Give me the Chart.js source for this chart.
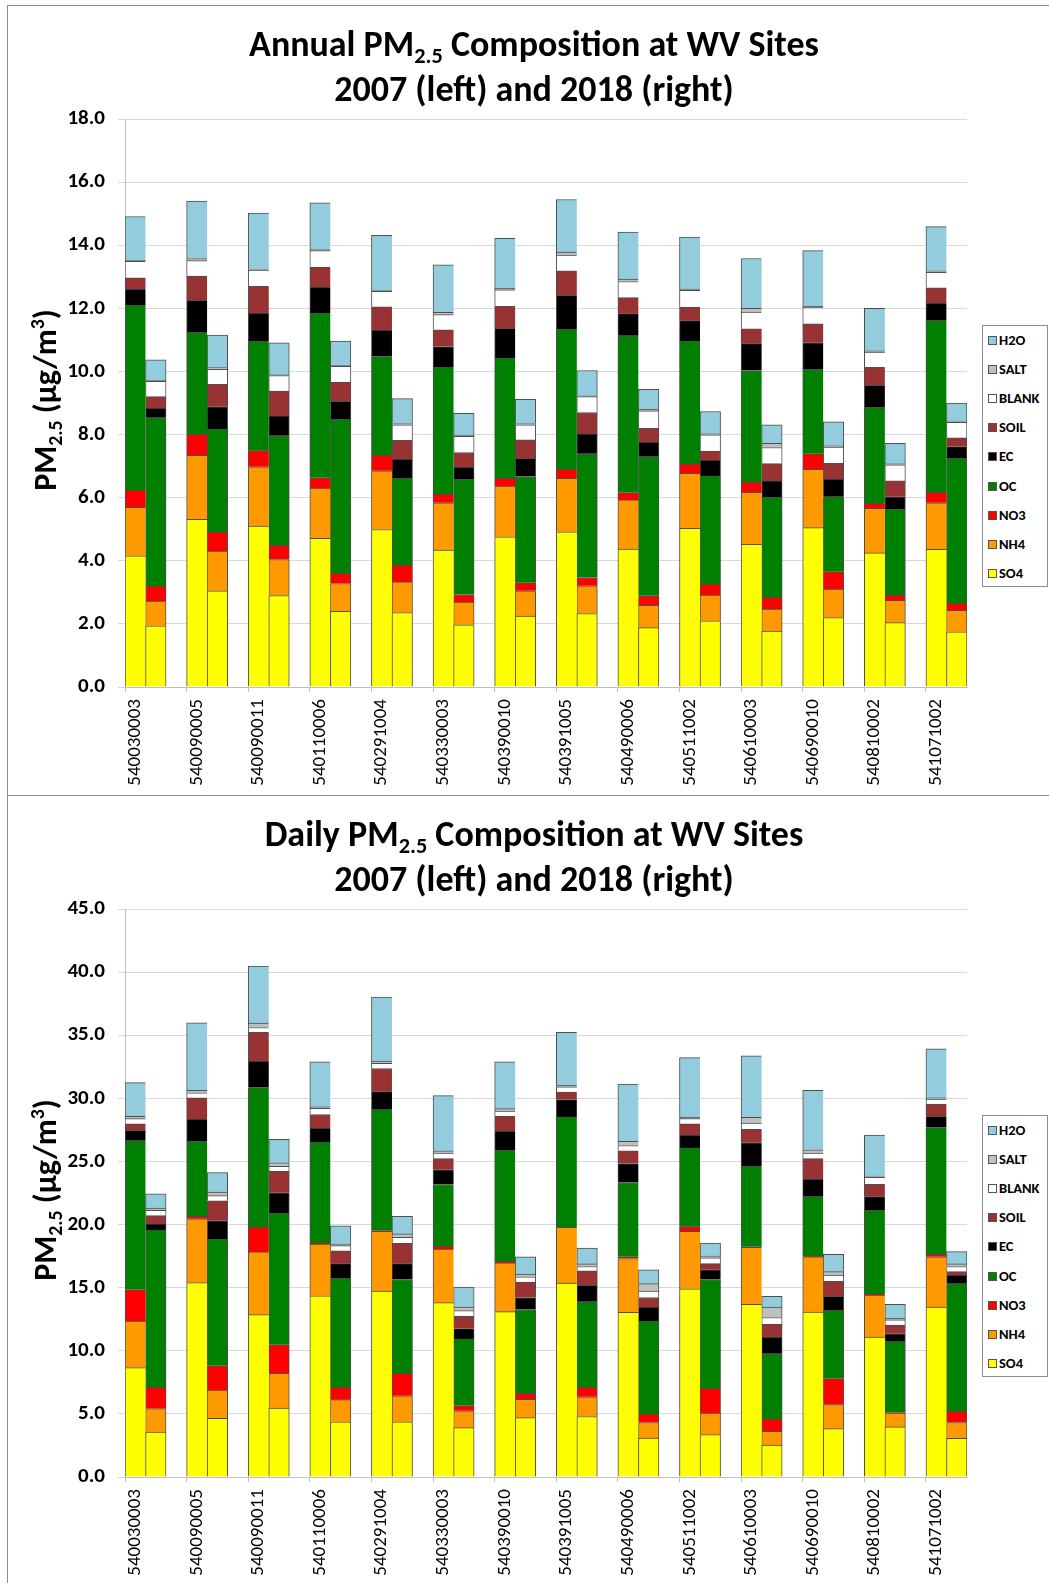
<!DOCTYPE html>
<html>
<head>
<meta charset="utf-8">
<script src="https://cdn.jsdelivr.net/npm/chart.js@4.4.0/dist/chart.umd.min.js"></script>
<style>
  html, body { margin: 0; padding: 0; background: #fff; }
  body { width: 1049px; height: 1583px; overflow: hidden; position: relative;
         font-family: Carlito, Calibri, Lato, sans-serif; color: #000; }
  .frame { position: absolute; left: 7px; width: 1100px; border: 1px solid #8c8c8c; box-sizing: border-box; }
  .title { position: absolute; left: 0; width: 1068px; text-align: center; font-weight: bold;
           font-size: 36px; line-height: 45px; }
  .title sub, .ytitle sub { font-size: 0.62em; vertical-align: -0.3em; line-height: 0; }
  .ytitle sup { font-size: 0.62em; vertical-align: 0.6em; line-height: 0; }
  .ytitle { position: absolute; width: 300px; height: 40px; line-height: 40px; text-align: center;
            font-weight: bold; font-size: 32px; transform: rotate(-90deg); white-space: nowrap; }
  canvas { position: absolute; left: 0; }
  .legend { position: absolute; left: 982px; width: 66px; height: 262px; border: 1px solid #8c8c8c;
            box-sizing: border-box; background: #fff; }
  .legend .item { position: absolute; left: 5px; height: 16px; line-height: 16px; font-size: 14.5px;
                  font-weight: bold; white-space: nowrap; }
  .legend .sw { display: inline-block; width: 7px; height: 7px; border: 1px solid #555;
                margin-right: 2px; vertical-align: 0px; }
</style>
</head>
<body>

<script>
/* ---------- categories ---------- */
const sites = ["540030003", "540090005", "540090011", "540110006", "540291004", "540330003", "540390010",
               "540391005", "540490006", "540511002", "540610003", "540690010", "540810002", "541071002"];
const components = ["SO4", "NH4", "NO3", "OC", "EC", "SOIL", "BLANK", "SALT", "H2O"];
const compColors = ["#FFFF00", "#FF9900", "#FF0000", "#008000", "#000000", "#993333", "#FFFFFF", "#C0C0C0", "#93CDDD"];

/* ---------- Annual PM2.5 (ug/m3), 2007 ---------- */
const annSO4_2007   = [4.16, 5.31, 5.10, 4.71, 4.99, 4.34, 4.76, 4.92, 4.37, 5.03, 4.52, 5.05, 4.25, 4.36];
const annNH4_2007   = [1.53, 2.03, 1.88, 1.59, 1.86, 1.50, 1.61, 1.69, 1.56, 1.74, 1.65, 1.85, 1.41, 1.48];
const annNO3_2007   = [0.55, 0.67, 0.51, 0.33, 0.50, 0.27, 0.24, 0.29, 0.23, 0.30, 0.32, 0.49, 0.16, 0.33];
const annOC_2007    = [5.86, 3.23, 3.47, 5.22, 3.12, 4.03, 3.81, 4.44, 4.97, 3.89, 3.54, 2.68, 3.04, 5.45];
const annEC_2007    = [0.51, 1.01, 0.89, 0.82, 0.84, 0.65, 0.95, 1.07, 0.70, 0.65, 0.85, 0.84, 0.70, 0.55];
const annSOIL_2007  = [0.36, 0.77, 0.85, 0.63, 0.74, 0.53, 0.69, 0.78, 0.51, 0.43, 0.47, 0.60, 0.57, 0.48];
const annBLANK_2007 = [0.52, 0.49, 0.51, 0.53, 0.49, 0.48, 0.53, 0.50, 0.51, 0.53, 0.53, 0.51, 0.48, 0.49];
const annSALT_2007  = [0.03, 0.07, 0.02, 0.03, 0.02, 0.07, 0.04, 0.09, 0.08, 0.04, 0.12, 0.04, 0.04, 0.05];
const annH2O_2007   = [1.39, 1.82, 1.79, 1.48, 1.75, 1.51, 1.59, 1.67, 1.49, 1.65, 1.58, 1.77, 1.35, 1.40];

/* ---------- Annual PM2.5, 2018 ---------- */
const annSO4_2018   = [1.94, 3.05, 2.90, 2.40, 2.36, 1.97, 2.25, 2.33, 1.88, 2.10, 1.77, 2.20, 2.04, 1.75];
const annNH4_2018   = [0.78, 1.26, 1.14, 0.88, 0.97, 0.72, 0.80, 0.88, 0.71, 0.81, 0.70, 0.90, 0.71, 0.68];
const annNO3_2018   = [0.48, 0.60, 0.45, 0.32, 0.53, 0.24, 0.25, 0.26, 0.30, 0.35, 0.37, 0.55, 0.16, 0.22];
const annOC_2018    = [5.33, 3.26, 3.47, 4.88, 2.75, 3.65, 3.37, 3.92, 4.41, 3.43, 3.17, 2.38, 2.72, 4.60];
const annEC_2018    = [0.31, 0.71, 0.63, 0.57, 0.61, 0.39, 0.58, 0.63, 0.46, 0.50, 0.52, 0.56, 0.40, 0.37];
const annSOIL_2018  = [0.36, 0.71, 0.79, 0.61, 0.60, 0.46, 0.58, 0.68, 0.44, 0.29, 0.55, 0.50, 0.50, 0.28];
const annBLANK_2018 = [0.49, 0.48, 0.49, 0.50, 0.49, 0.51, 0.48, 0.50, 0.55, 0.51, 0.51, 0.51, 0.51, 0.49];
const annSALT_2018  = [0.03, 0.05, 0.02, 0.03, 0.04, 0.04, 0.04, 0.03, 0.05, 0.03, 0.13, 0.04, 0.03, 0.04];
const annH2O_2018   = [0.65, 1.03, 1.02, 0.77, 0.79, 0.69, 0.77, 0.80, 0.63, 0.71, 0.59, 0.76, 0.65, 0.57];

/* ---------- Daily PM2.5, 2007 ---------- */
const daySO4_2007   = [8.67, 15.40, 12.86, 14.36, 14.72, 13.81, 13.10, 15.37, 13.05, 14.91, 13.68, 13.07, 11.08, 13.46];
const dayNH4_2007   = [3.69, 5.06, 4.97, 4.10, 4.75, 4.24, 3.86, 4.41, 4.26, 4.56, 4.51, 4.38, 3.33, 3.99];
const dayNO3_2007   = [2.49, 0.19, 1.97, 0.06, 0.06, 0.22, 0.13, 0.02, 0.14, 0.36, 0.05, 0.05, 0.09, 0.19];
const dayOC_2007    = [11.79, 5.94, 11.05, 8.01, 9.57, 4.90, 8.79, 8.73, 5.88, 6.24, 6.38, 4.71, 6.62, 10.04];
const dayEC_2007    = [0.82, 1.77, 2.11, 1.12, 1.43, 1.17, 1.53, 1.37, 1.51, 1.01, 1.86, 1.40, 1.09, 0.90];
const daySOIL_2007  = [0.52, 1.67, 2.27, 1.07, 1.83, 0.88, 1.17, 0.60, 1.01, 0.90, 1.06, 1.61, 0.98, 0.96];
const dayBLANK_2007 = [0.41, 0.41, 0.38, 0.49, 0.41, 0.44, 0.41, 0.41, 0.41, 0.41, 0.50, 0.44, 0.55, 0.41];
const daySALT_2007  = [0.19, 0.19, 0.36, 0.11, 0.19, 0.19, 0.19, 0.13, 0.33, 0.11, 0.46, 0.27, 0.11, 0.08];
const dayH2O_2007   = [2.66, 5.36, 4.51, 3.58, 5.06, 4.37, 3.72, 4.19, 4.54, 4.73, 4.87, 4.70, 3.23, 3.89];

/* ---------- Daily PM2.5, 2018 ---------- */
const daySO4_2018   = [3.56, 4.65, 5.47, 4.38, 4.38, 3.91, 4.70, 4.79, 3.09, 3.36, 2.52, 3.83, 3.97, 3.06];
const dayNH4_2018   = [1.86, 2.24, 2.74, 1.75, 2.05, 1.34, 1.45, 1.56, 1.23, 1.70, 1.09, 1.91, 1.09, 1.26];
const dayNO3_2018   = [1.69, 1.92, 2.27, 0.98, 1.78, 0.41, 0.47, 0.76, 0.66, 1.97, 0.99, 2.06, 0.05, 0.88];
const dayOC_2018    = [12.45, 10.04, 10.42, 8.62, 7.44, 5.28, 6.65, 6.78, 7.38, 8.62, 5.16, 5.41, 5.61, 10.12];
const dayEC_2018    = [0.49, 1.45, 1.61, 1.17, 1.25, 0.82, 0.95, 1.29, 1.10, 0.76, 1.32, 1.10, 0.63, 0.68];
const daySOIL_2018  = [0.66, 1.58, 1.70, 1.02, 1.62, 0.96, 1.23, 1.15, 0.76, 0.49, 1.01, 1.20, 0.69, 0.27];
const dayBLANK_2018 = [0.41, 0.41, 0.41, 0.41, 0.46, 0.46, 0.41, 0.35, 0.50, 0.47, 0.55, 0.49, 0.41, 0.41];
const daySALT_2018  = [0.19, 0.28, 0.27, 0.13, 0.28, 0.28, 0.22, 0.20, 0.60, 0.14, 0.82, 0.27, 0.13, 0.20];
const dayH2O_2018   = [1.12, 1.55, 1.86, 1.43, 1.39, 1.58, 1.37, 1.25, 1.09, 1.03, 0.85, 1.37, 1.10, 0.98];

const annual2007 = [annSO4_2007, annNH4_2007, annNO3_2007, annOC_2007, annEC_2007, annSOIL_2007, annBLANK_2007, annSALT_2007, annH2O_2007];
const annual2018 = [annSO4_2018, annNH4_2018, annNO3_2018, annOC_2018, annEC_2018, annSOIL_2018, annBLANK_2018, annSALT_2018, annH2O_2018];
const daily2007  = [daySO4_2007, dayNH4_2007, dayNO3_2007, dayOC_2007, dayEC_2007, daySOIL_2007, dayBLANK_2007, daySALT_2007, dayH2O_2007];
const daily2018  = [daySO4_2018, dayNH4_2018, dayNO3_2018, dayOC_2018, dayEC_2018, daySOIL_2018, dayBLANK_2018, daySALT_2018, dayH2O_2018];

const FONT = "Carlito, Calibri, Lato, sans-serif";

// Excel layout: per site a 2007 slot, a 2018 slot and an empty gap slot (none after the last site)
function slotLabels() {
  const out = [];
  sites.forEach((s, i) => {
    out.push(s, "");
    if (i < sites.length - 1) out.push("");
  });
  return out;
}

function slotData(v07, v18) {
  const out = [];
  v07.forEach((v, i) => {
    out.push(v, v18[i]);
    if (i < v07.length - 1) out.push(null);
  });
  return out;
}

/* ---------- one panel: frame, titles, legend, chart ---------- */
function buildPanel(top, frameTop, frameHeight, titleText, series07, series18, yMax, yStep) {
  const frame = document.createElement("div");
  frame.className = "frame";
  frame.style.top = frameTop + "px";
  frame.style.height = frameHeight + "px";
  document.body.appendChild(frame);

  const canvas = document.createElement("canvas");
  canvas.width = 1049;
  canvas.height = 795;
  canvas.style.top = top + "px";
  document.body.appendChild(canvas);

  const title = document.createElement("div");
  title.className = "title";
  title.style.top = (top + 22) + "px";
  title.innerHTML = titleText + " PM<sub>2.5</sub> Composition at WV Sites<br>2007 (left) and 2018 (right)";
  document.body.appendChild(title);

  const ytitle = document.createElement("div");
  ytitle.className = "ytitle";
  ytitle.style.left = (46 - 150) + "px";
  ytitle.style.top = (top + 400 - 20) + "px";
  ytitle.innerHTML = "PM<sub>2.5</sub> (µg/m<sup>3</sup>)";
  document.body.appendChild(ytitle);

  const legend = document.createElement("div");
  legend.className = "legend";
  legend.style.top = (top + 325) + "px";
  for (let k = components.length - 1, row = 0; k >= 0; k--, row++) {
    const item = document.createElement("div");
    item.className = "item";
    item.style.top = (6 + row * 29.1) + "px";
    item.innerHTML = '<span class="sw" style="background:' + compColors[k] + '"></span>' + components[k];
    legend.appendChild(item);
  }
  document.body.appendChild(legend);

  const datasets = components.map((name, c) => ({
    label: name,
    data: slotData(series07[c], series18[c]),
    backgroundColor: compColors[c],
    borderColor: "#4d4d4d",
    borderWidth: ctx => (ctx.dataIndex % 3 === 1
      ? { top: 1, left: 1, right: 1, bottom: 0 }
      : { top: 1, left: 1, right: 0, bottom: 0 }),
    borderSkipped: false,
    barPercentage: 1,
    categoryPercentage: 1
  }));

  return new Chart(canvas.getContext("2d"), {
    type: "bar",
    data: { labels: slotLabels(), datasets },
    options: {
      responsive: false,
      devicePixelRatio: 1,
      animation: false,
      layout: { padding: { left: 65, right: 82, top: 119, bottom: 8 } },
      plugins: {
        legend: { display: false },
        tooltip: { enabled: false },
        title: { display: false }
      },
      scales: {
        x: {
          stacked: true,
          afterFit: scale => { scale.height = 100; },
          grid: {
            drawOnChartArea: false,
            tickLength: 5,
            color: ctx => (ctx.index % 3 === 0 ? "#bfbfbf" : "rgba(0,0,0,0)")
          },
          border: { color: "#bfbfbf" },
          ticks: {
            autoSkip: false,
            minRotation: 90,
            maxRotation: 90,
            padding: 7,
            color: "#000",
            font: { family: FONT, size: 19 }
          }
        },
        y: {
          stacked: true,
          min: 0,
          max: yMax,
          afterFit: scale => { scale.width = 60; },
          grid: { color: "#d9d9d9", tickLength: 7 },
          border: { color: "#bfbfbf" },
          ticks: {
            stepSize: yStep,
            padding: 13,
            color: "#000",
            font: { family: FONT, size: 21, weight: "bold" },
            callback: v => v.toFixed(1)
          }
        }
      }
    }
  });
}

buildPanel(0, 5, 791, "Annual", annual2007, annual2018, 18, 2);
buildPanel(790, 795, 800, "Daily", daily2007, daily2018, 45, 5);
</script>
</body>
</html>
